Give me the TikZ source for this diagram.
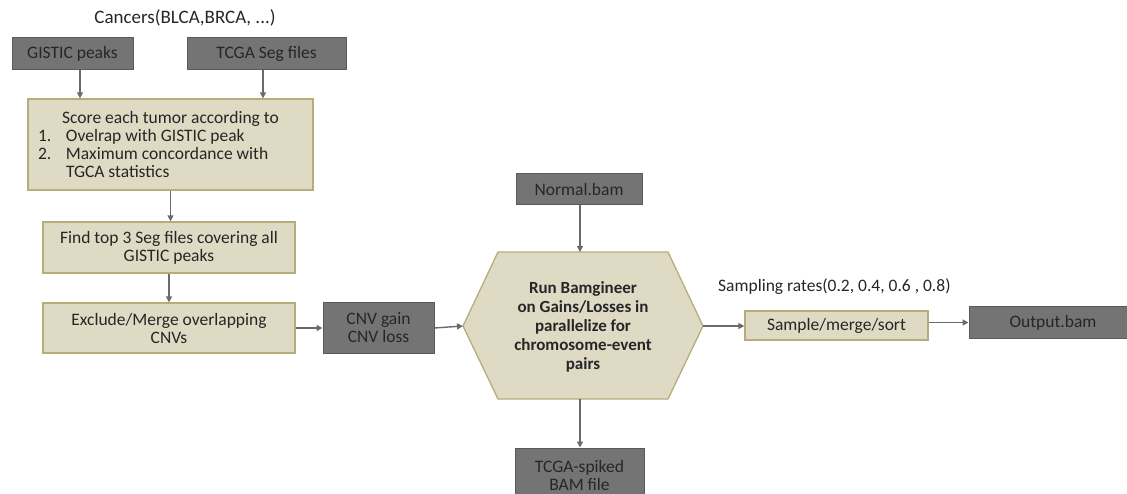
\documentclass[tikz,border=0pt]{standalone}
\usepackage{fontspec}
\setmainfont{Carlito}
\usetikzlibrary{arrows.meta,calc}
\definecolor{darkfill}{HTML}{747474}
\definecolor{darkline}{HTML}{5A5A5A}
\definecolor{tanfill}{HTML}{DEDAC4}
\definecolor{tanline}{HTML}{B8AC7C}
\definecolor{arrcol}{HTML}{6A6A6A}
\definecolor{txt}{HTML}{262626}
\begin{document}
\begin{tikzpicture}[x=1pt,y=-1pt,
  every node/.style={font=\fontsize{17.5}{18}\selectfont, text=txt, inner sep=0pt},
  darkbox/.style={draw=darkline, fill=darkfill, line width=1pt, align=center},
  tanbox/.style={draw=tanline, fill=tanfill, line width=1.3pt, align=center},
  arr/.style={draw=arrcol, line width=1.4pt, -{Triangle[length=6pt,width=6pt]}}]
\useasboundingbox (0,0) rectangle (1127,494);
\node[font=\fontsize{19}{20}\selectfont] (title) at (185,18) {Cancers(BLCA,BRCA, ...)};
\node[darkbox, minimum width=121pt, minimum height=32pt] (gistic) at (72.5,54) {GISTIC peaks};
\node[darkbox, minimum width=159pt, minimum height=32pt] (tcga) at (266.5,54) {TCGA Seg files};
\node[tanbox, minimum width=285pt, minimum height=91pt] (score) at (170.5,144.5) {%
\parbox{265pt}{\centering Score each tumor according to\par
\raggedright\makebox[28pt][l]{1.}Ovelrap with GISTIC peak\par
\makebox[28pt][l]{2.}Maximum concordance with\par
\hspace*{28pt}TGCA statistics\par}};
\node[tanbox, minimum width=252pt, minimum height=51pt] (find) at (169,247.5) {Find top 3 Seg files covering all\\GISTIC peaks};
\node[tanbox, minimum width=252pt, minimum height=50pt] (exclude) at (169,328) {Exclude/Merge overlapping\\CNVs};
\node[darkbox, minimum width=111pt, minimum height=50pt] (cnv) at (378.5,328) {CNV gain\\CNV loss};
\node[darkbox, minimum width=126pt, minimum height=31pt] (normal) at (579,189.5) {Normal.bam};
\node[darkbox, minimum width=129pt, minimum height=54pt] (spiked) at (579.5,475) {TCGA-spiked\\BAM file};
\coordinate (hl) at (463,326);
\coordinate (htl) at (498,252);
\coordinate (htr) at (668,252);
\coordinate (hr) at (703,326);
\coordinate (hbr) at (668,399);
\coordinate (hbl) at (498,399);
\draw[draw=tanline, fill=tanfill, line width=1.3pt] (hl) -- (htl) -- (htr) -- (hr) -- (hbr) -- (hbl) -- cycle;
\node[align=center, font=\fontsize{17}{19}\selectfont\bfseries] (hex) at (583,327) {Run Bamgineer\\on Gains/Losses in\\parallelize for\\chromosome-event\\pairs};
\coordinate (ht) at (580,252);
\coordinate (hb) at (580,399);
\node[tanbox, minimum width=183pt, minimum height=29pt] (sample) at (836.5,325.5) {Sample/merge/sort};
\node[darkbox, minimum width=168pt, minimum height=31pt] (output) at (1053,322.5) {Output.bam};
\node[anchor=west] (rates) at (718,287) {Sampling rates(0.2, 0.4, 0.6 , 0.8)};
\draw[arr] ([xshift=7.5pt]gistic.south) -- ([xshift=7.5pt]gistic.south |- score.north);
\draw[arr] ([xshift=-3.5pt]tcga.south) -- ([xshift=-3.5pt]tcga.south |- score.north);
\draw[arr] (score.south) -- (score.south |- find.north);
\draw[arr] (find.south) -- (find.south |- exclude.north);
\draw[arr] (exclude.east) -- (cnv.west);
\draw[arr] (cnv.east) -- (hl);
\draw[arr] (normal.south -| ht) -- (ht);
\draw[arr] (hb) -- (hb |- spiked.north);
\draw[arr] (hr) -- (hr -| sample.west);
\draw[arr] (sample.east |- output.west) -- (output.west);
\end{tikzpicture}
\end{document}
